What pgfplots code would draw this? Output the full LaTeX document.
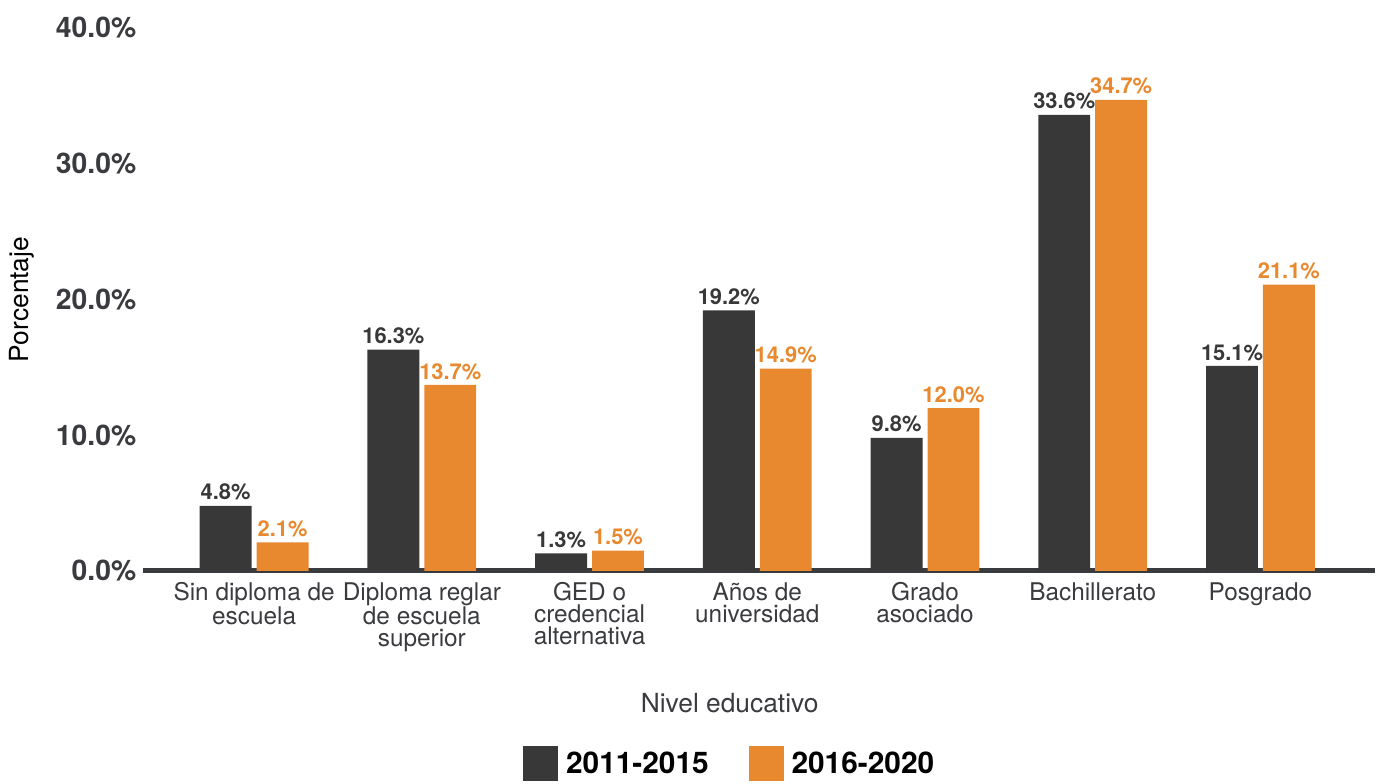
\documentclass[border=0pt]{standalone}
\usepackage{pgfplots}
\pgfplotsset{compat=1.18}
\usepackage{fontspec}
\setmainfont{TeX Gyre Heros}
\definecolor{darkbar}{RGB}{56,56,56}
\definecolor{orangebar}{RGB}{233,137,47}
\definecolor{txtgray}{RGB}{58,59,63}
\pgfkeys{/pgf/number format/assume math mode=true}
\begin{document}
\begin{tikzpicture}
\begin{axis}[
  scale only axis,
  width=1234bp, height=544bp,
  ybar=5bp, bar width=52bp,
  xmin=-0.664, xmax=6.68,
  ymin=0, ymax=40,
  xtick=data,
  xticklabels={Sin diploma de\\escuela, Diploma reglar\\de escuela\\superior, GED o\\credencial\\alternativa, Años de\\universidad, Grado\\asociado, Bachillerato, Posgrado},
  ytick={0,10,20,30,40},
  yticklabel={\pgfmathprintnumber[fixed,fixed zerofill,precision=1]{\tick}\%},
  yticklabel style={font=\fontsize{28.5}{30}\selectfont\bfseries, text=txtgray, xshift=-3bp},
  xticklabel style={font=\fontsize{24.5}{22}\selectfont, text=txtgray, align=center, yshift=-8bp},
  axis lines*=left,
  x axis line style={line width=5bp, color=txtgray, -},
  y axis line style={draw=none},
  major tick length=0pt,
  tick style={draw=none},
  xlabel={Nivel educativo},
  ylabel={Porcentaje},
  xlabel style={font=\fontsize{26.5}{28}\selectfont, text=txtgray, at={(axis description cs:0.4765,0)}, anchor=center, yshift=-132bp},
  ylabel style={font=\fontsize{26.5}{28}\selectfont, text=black, at={(axis description cs:-0.098,0.5)}, anchor=center},
  nodes near coords={\pgfmathprintnumber[fixed,fixed zerofill,precision=1]{\pgfplotspointmeta}\%},
  nodes near coords style={font=\fontsize{22}{22}\selectfont\bfseries, anchor=south, yshift=2bp},
  legend style={at={(0.4765,-0.355)}, anchor=center, draw=none, fill=none,
    legend columns=2, font=\fontsize{30}{32}\selectfont\bfseries, text=black,
    /tikz/every odd column/.append style={column sep=6bp},
    /tikz/every even column/.append style={column sep=38bp}},
  legend image code/.code={\fill[#1,draw=none] (0bp,-17.5bp) rectangle (35bp,17.5bp);},
  legend cell align=left,
]
\addplot[fill=darkbar, draw=none, nodes near coords style={text=darkbar}] coordinates {(0,4.8) (1,16.3) (2,1.3) (3,19.2) (4,9.8) (5,33.6) (6,15.1)};
\addplot[fill=orangebar, draw=none, nodes near coords style={text=orangebar}] coordinates {(0,2.1) (1,13.7) (2,1.5) (3,14.9) (4,12.0) (5,34.7) (6,21.1)};
\legend{2011-2015, 2016-2020}
\end{axis}
\path[use as bounding box] ([xshift=-143bp,yshift=-207bp]current axis.south west) rectangle ([yshift=28bp]current axis.north east);
\end{tikzpicture}
\end{document}
